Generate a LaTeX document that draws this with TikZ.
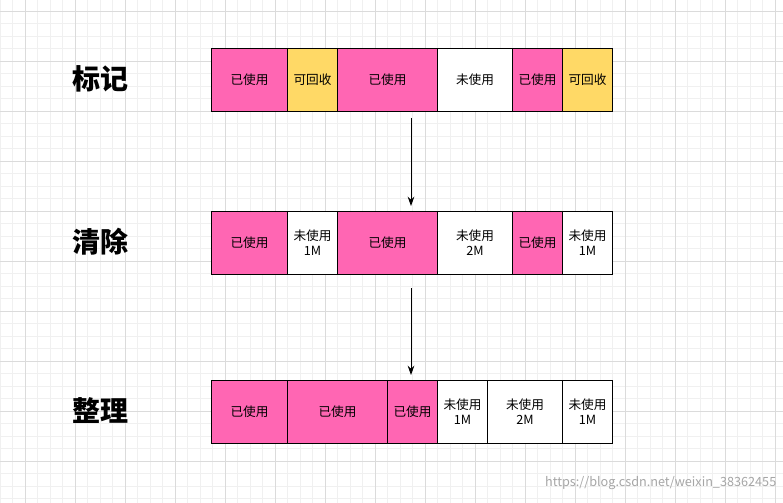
\documentclass[tikz,border=0pt]{standalone}
\usepackage{fontspec}
\setmainfont{Noto Sans CJK SC}
\usetikzlibrary{arrows.meta}
\definecolor{pk}{HTML}{FF66B3}
\definecolor{yl}{HTML}{FFD966}
\begin{document}
\begin{tikzpicture}[x=0.75pt,y=-0.75pt,
  cell/.style={draw=black,line width=0.75pt,minimum height=47pt,inner sep=0pt,anchor=north west,font=\fontsize{9.5}{11}\selectfont,align=center},
  used/.style={cell,fill=pk},
  recl/.style={cell,fill=yl},
  free/.style={cell,fill=white},
  title/.style={font=\fontsize{21}{24}\selectfont\bfseries},
  arr/.style={-{Stealth[length=7pt,width=5pt]},line width=0.75pt}]
\useasboundingbox (0,0) rectangle (783,503);
\fill[white] (0,0) rectangle (783,503);
\foreach \x in {0,12.5,...,783} \draw[black!6,line width=0.5pt] (\x,0) -- (\x,503);
\foreach \y in {-1.5,11,...,503} \draw[black!6,line width=0.5pt] (0,\y) -- (783,\y);
\foreach \x in {25,75,...,783} \draw[black!14,line width=0.6pt] (\x,0) -- (\x,503);
\foreach \y in {11,61,...,503} \draw[black!14,line width=0.6pt] (0,\y) -- (783,\y);
% row 1
\node[used,minimum width=57pt] (a1) at (211,48) {已使用};
\node[recl,minimum width=37.5pt] (a2) at (287,48) {可回收};
\node[used,minimum width=75pt] (a3) at (337,48) {已使用};
\node[free,minimum width=56.25pt] (a4) at (437,48) {未使用};
\node[used,minimum width=37.5pt] (a5) at (512,48) {已使用};
\node[recl,minimum width=37.5pt] (a6) at (562,48) {可回收};
% row 2
\node[used,minimum width=57pt] (b1) at (211,211) {已使用};
\node[free,minimum width=37.5pt] (b2) at (287,211) {未使用\\1M};
\node[used,minimum width=75pt] (b3) at (337,211) {已使用};
\node[free,minimum width=56.25pt] (b4) at (437,211) {未使用\\2M};
\node[used,minimum width=37.5pt] (b5) at (512,211) {已使用};
\node[free,minimum width=37.5pt] (b6) at (562,211) {未使用\\1M};
% row 3
\node[used,minimum width=57pt] (c1) at (211,380) {已使用};
\node[used,minimum width=75pt] (c2) at (287,380) {已使用};
\node[used,minimum width=37.5pt] (c3) at (387,380) {已使用};
\node[free,minimum width=37.5pt] (c4) at (437,380) {未使用\\1M};
\node[free,minimum width=56.25pt] (c5) at (487,380) {未使用\\2M};
\node[free,minimum width=37.5pt] (c6) at (562,380) {未使用\\1M};
% titles
\node[title] (t1) at (100,79) {标记};
\node[title] (t2) at (100,242) {清除};
\node[title] (t3) at (100,411) {整理};
% arrows
\coordinate (p1) at (411,118); \coordinate (q1) at (411,206);
\coordinate (p2) at (411,288); \coordinate (q2) at (411,375);
\draw[arr] (p1) -- (q1);
\draw[arr] (p2) -- (q2);
\node[text=black!35,font=\fontsize{9.5}{11}\selectfont,anchor=east] (wm) at (781,483) {https://blog.csdn.net/weixin\_38362455};
\end{tikzpicture}
\end{document}
